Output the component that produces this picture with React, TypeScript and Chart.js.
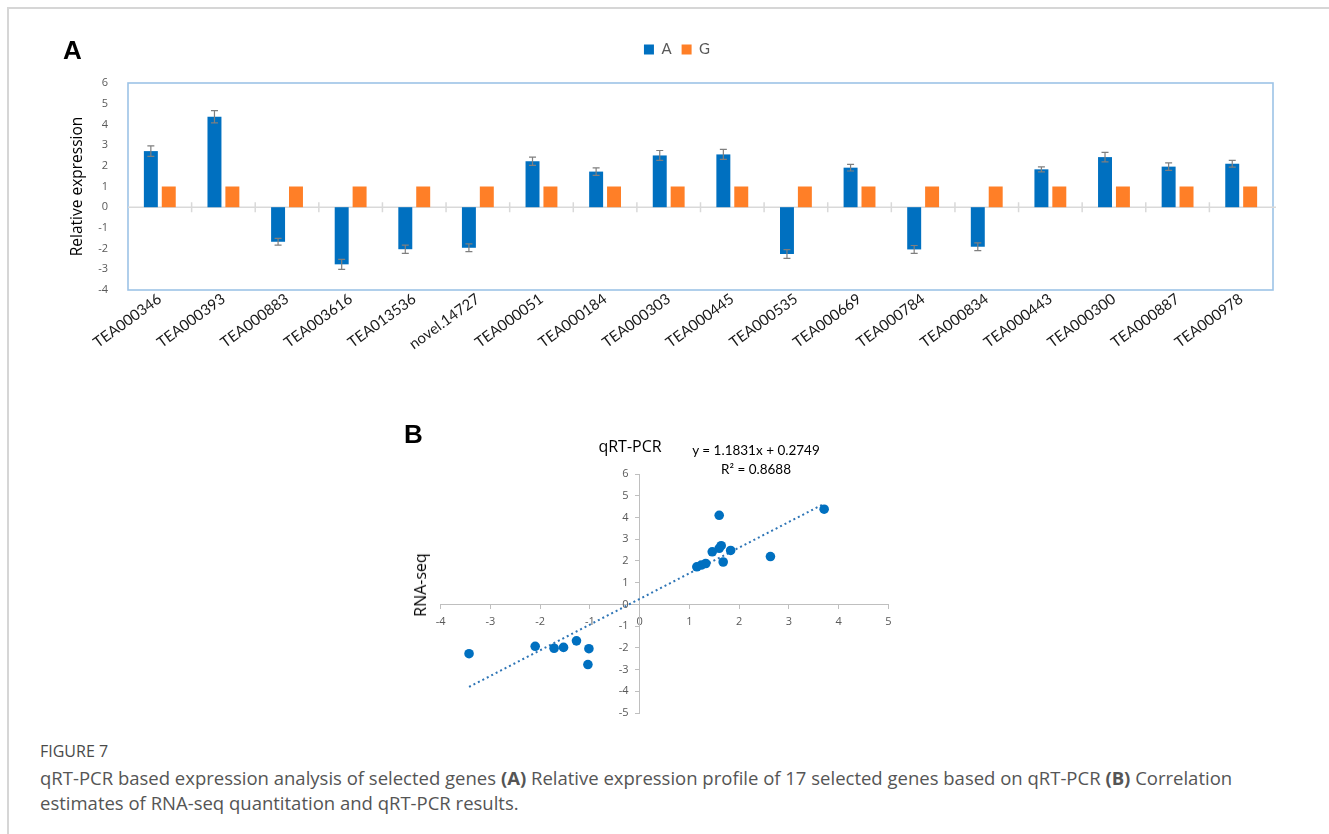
import React, { useEffect, useRef } from 'react';
import { Chart, registerables } from 'chart.js';

Chart.register(...registerables);

// ---------- Panel A data ----------
const categories = [
  'TEA000346', 'TEA000393', 'TEA000883', 'TEA003616', 'TEA013536', 'novel.14727',
  'TEA000051', 'TEA000184', 'TEA000303', 'TEA000445', 'TEA000535', 'TEA000669',
  'TEA000784', 'TEA000834', 'TEA000443', 'TEA000300', 'TEA000887', 'TEA000978',
];
const seriesNames = ['A', 'G'];
const valuesA = [2.71, 4.37, -1.67, -2.76, -2.03, -1.96, 2.22, 1.72, 2.5, 2.55, -2.26, 1.91, -2.04, -1.91, 1.83, 2.42, 1.96, 2.1];
const errorsA = [0.25, 0.3, 0.16, 0.24, 0.2, 0.19, 0.2, 0.18, 0.24, 0.24, 0.21, 0.16, 0.19, 0.19, 0.12, 0.23, 0.18, 0.16];
const valuesG = [1, 1, 1, 1, 1, 1, 1, 1, 1, 1, 1, 1, 1, 1, 1, 1, 1, 1];
const yMinA = -4;
const yMaxA = 6;
const yStepA = 1;

// ---------- Panel B data ----------
const qpcrX = [3.71, 1.6, 2.63, 1.83, 1.64, 1.6, 1.46, 1.68, 1.33, 1.24, 1.15, -3.43, -2.1, -1.72, -1.53, -1.27, -1.02, -1.04];
const rnaseqY = [4.38, 4.1, 2.2, 2.48, 2.7, 2.58, 2.42, 1.95, 1.88, 1.81, 1.73, -2.27, -1.93, -2.02, -1.98, -1.68, -2.04, -2.77];
const trendX = [-3.43, 3.71];
const trendY = [-3.8, 4.63];
const xMinB = -4;
const xMaxB = 5;
const yMinB = -5;
const yMaxB = 6;

const BLUE = '#0070c0';
const ORANGE = '#ff7f27';
const TICK_GRAY = '#595959';

const frameA = {
  id: 'frameA',
  beforeInit(chart: any) {
    const lg = chart.legend;
    if (lg) {
      const orig = lg.fit;
      lg.fit = function () {
        orig.call(this);
        this.height += 16;
      };
    }
  },
  beforeDatasetsDraw(chart: any) {
    const { ctx, chartArea: ca, scales } = chart;
    const y0 = scales.y.getPixelForValue(0);
    ctx.save();
    ctx.strokeStyle = '#9dc3e6';
    ctx.lineWidth = 1.6;
    ctx.strokeRect(ca.left, ca.top, ca.right - ca.left, ca.bottom - ca.top);
    ctx.strokeStyle = '#d9d9d9';
    ctx.lineWidth = 1.5;
    ctx.beginPath();
    ctx.moveTo(ca.left, y0);
    ctx.lineTo(ca.right + 3, y0);
    ctx.stroke();
    const n = chart.data.labels.length;
    ctx.beginPath();
    for (let i = 1; i < n; i++) {
      const x = (scales.x.getPixelForTick(i - 1) + scales.x.getPixelForTick(i)) / 2;
      ctx.moveTo(x, y0 - 5);
      ctx.lineTo(x, y0 + 5);
    }
    ctx.stroke();
    ctx.restore();
  },
  afterDatasetsDraw(chart: any) {
    const { ctx, scales } = chart;
    const meta = chart.getDatasetMeta(0);
    ctx.save();
    ctx.strokeStyle = '#7f7f7f';
    ctx.lineWidth = 1.2;
    meta.data.forEach((bar: any, i: number) => {
      const v = valuesA[i];
      const e = errorsA[i];
      const yT = scales.y.getPixelForValue(v + e);
      const yB = scales.y.getPixelForValue(v - e);
      const x = bar.x;
      ctx.beginPath();
      ctx.moveTo(x, yT);
      ctx.lineTo(x, yB);
      ctx.moveTo(x - 3.5, yT);
      ctx.lineTo(x + 3.5, yT);
      ctx.moveTo(x - 3.5, yB);
      ctx.lineTo(x + 3.5, yB);
      ctx.stroke();
    });
    ctx.restore();
  },
};

// y tick labels of the centred y axis in panel B, placed left of the axis line
const yLabelsB = {
  id: 'yLabelsB',
  afterDraw(chart: any) {
    const { ctx, scales } = chart;
    const x0 = scales.x.getPixelForValue(0);
    ctx.save();
    ctx.fillStyle = TICK_GRAY;
    ctx.font = '11px "Open Sans"';
    ctx.textAlign = 'right';
    ctx.textBaseline = 'middle';
    scales.y.ticks.forEach((t: any) => {
      ctx.fillText(String(t.value), x0 - 11, scales.y.getPixelForValue(t.value));
    });
    ctx.restore();
  },
};

export default function App() {
  const refA = useRef<HTMLCanvasElement>(null);
  const refB = useRef<HTMLCanvasElement>(null);

  useEffect(() => {
    const chartA = new Chart(refA.current as HTMLCanvasElement, {
      type: 'bar',
      data: {
        labels: categories,
        datasets: [
          {
            label: seriesNames[0],
            data: valuesA,
            backgroundColor: BLUE,
            categoryPercentage: 0.563,
            barPercentage: 0.78,
          },
          {
            label: seriesNames[1],
            data: valuesG,
            backgroundColor: ORANGE,
            categoryPercentage: 0.563,
            barPercentage: 0.78,
          },
        ],
      },
      options: {
        animation: false,
        responsive: false,
        maintainAspectRatio: false,
        layout: { padding: { left: 81, right: 56, top: 32, bottom: 8 } },
        plugins: {
          legend: {
            position: 'top',
            labels: {
              boxWidth: 10,
              boxHeight: 10,
              padding: 10,
              color: TICK_GRAY,
              font: { family: 'Lato', size: 15 },
            },
          },
          tooltip: { enabled: false },
        },
        scales: {
          x: {
            grid: { display: false },
            border: { display: false },
            ticks: {
              autoSkip: false,
              minRotation: 36,
              maxRotation: 36,
              color: '#1a1a1a',
              font: { family: 'Lato', size: 15 },
              padding: -8,
            },
            afterFit(s: any) {
              s.height = 70;
            },
          },
          y: {
            min: yMinA,
            max: yMaxA,
            ticks: {
              stepSize: yStepA,
              color: TICK_GRAY,
              font: { family: 'Open Sans', size: 11 },
              padding: 12,
            },
            grid: { display: false },
            border: { display: false },
            title: {
              display: true,
              text: 'Relative expression',
              color: '#000',
              font: { family: 'Open Sans', size: 15.5 },
              padding: { top: -13, bottom: 4 },
            },
            afterFit(s: any) {
              s.width = 47;
            },
          },
        },
      },
      plugins: [frameA],
    } as any);

    const chartB = new Chart(refB.current as HTMLCanvasElement, {
      type: 'scatter',
      data: {
        datasets: [
          {
            label: 'RNA-seq vs qRT-PCR',
            data: qpcrX.map((x, i) => ({ x, y: rnaseqY[i] })),
            backgroundColor: BLUE,
            borderWidth: 0,
            pointRadius: 4.8,
          },
          {
            label: 'Linear trend',
            data: trendX.map((x, i) => ({ x, y: trendY[i] })),
            showLine: true,
            borderColor: '#2e75b6',
            borderWidth: 2,
            borderDash: [2, 3],
            pointRadius: 0,
          },
        ],
      },
      options: {
        animation: false,
        responsive: false,
        maintainAspectRatio: false,
        layout: { padding: { left: 40.7, right: 31.7, top: 54, bottom: 17 } },
        plugins: { legend: { display: false }, tooltip: { enabled: false } },
        scales: {
          x: {
            type: 'linear',
            min: xMinB,
            max: xMaxB,
            position: { y: 0 },
            ticks: { stepSize: 1, color: TICK_GRAY, font: { family: 'Open Sans', size: 11 }, padding: 7 },
            grid: { drawOnChartArea: false, drawTicks: true, tickLength: 4, color: '#bfbfbf' },
            border: { color: '#bfbfbf', width: 1 },
          },
          y: {
            type: 'linear',
            min: yMinB,
            max: yMaxB,
            position: { x: 0 },
            ticks: { stepSize: 1, display: false },
            grid: { drawOnChartArea: false, drawTicks: true, tickLength: 4, color: '#bfbfbf' },
            border: { color: '#bfbfbf', width: 1 },
          },
        },
      },
      plugins: [yLabelsB],
    } as any);

    return () => {
      chartA.destroy();
      chartB.destroy();
    };
  }, []);

  const abs = (s: React.CSSProperties): React.CSSProperties => ({ position: 'absolute', ...s });

  return (
    <div style={abs({ left: 0, top: 0, width: 1329, height: 834, background: '#fff', overflow: 'hidden' })}>
      <div style={abs({ left: 7, top: 7, width: 1330, height: 840, borderTop: '2px solid #d6d6d6', borderLeft: '2px solid #d6d6d6' })} />
      <canvas ref={refA} width={1329} height={368} style={abs({ left: 0, top: 0, width: 1329, height: 368 })} />
      <canvas ref={refB} width={520} height={310} style={abs({ left: 400, top: 420, width: 520, height: 310 })} />
      <div style={abs({ left: 63, top: 37, fontFamily: '"Liberation Sans", Arial, sans-serif', fontWeight: 700, fontSize: 26, lineHeight: '26px', color: '#000' })}>A</div>
      <div style={abs({ left: 404, top: 421, fontFamily: '"Liberation Sans", Arial, sans-serif', fontWeight: 700, fontSize: 26, lineHeight: '26px', color: '#000' })}>B</div>
      <div style={abs({ left: 630, top: 436, transform: 'translateX(-50%)', fontFamily: '"Open Sans", sans-serif', fontSize: 16, lineHeight: '20px', color: '#000', whiteSpace: 'nowrap' })}>qRT-PCR</div>
      <div style={abs({ left: 756, top: 441, transform: 'translateX(-50%)', fontFamily: 'Lato, sans-serif', fontSize: 13.5, lineHeight: '19px', color: '#000', whiteSpace: 'nowrap', textAlign: 'center' })}>
        y = 1.1831x + 0.2749
        <br />
        R² = 0.8688
      </div>
      <div style={abs({ left: 420, top: 585, transform: 'translate(-50%, -50%) rotate(-90deg)', fontFamily: '"Open Sans", sans-serif', fontSize: 16, lineHeight: '20px', color: '#000', whiteSpace: 'nowrap' })}>RNA-seq</div>
      <div style={abs({ left: 40, top: 739, width: 1260, fontFamily: '"Open Sans", sans-serif', lineHeight: '25.5px', color: '#555' })}>
        <div style={{ color: '#4a4a4a', fontSize: 16 }}>FIGURE 7</div>
        <div style={{ fontSize: 18.5 }}>
          qRT-PCR based expression analysis of selected genes <b>(A)</b> Relative expression profile of 17 selected genes based on qRT-PCR <b>(B)</b> Correlation estimates of RNA-seq quantitation and qRT-PCR results.
        </div>
      </div>
    </div>
  );
}
